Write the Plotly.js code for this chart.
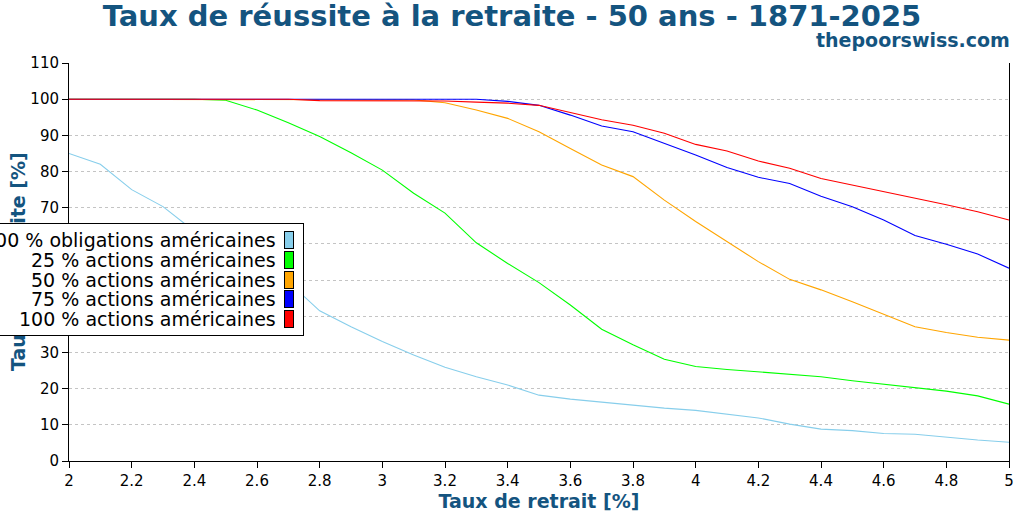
<!DOCTYPE html>
<html lang="fr">
<head>
<meta charset="utf-8">
<title>Taux de réussite à la retraite - 50 ans</title>
<script src="https://cdn.plot.ly/plotly-3.0.1.min.js"></script>
<style>
  html, body { margin: 0; padding: 0; background: #fff; }
  #chart { width: 1024px; height: 512px; }
</style>
</head>
<body>
<div id="chart"></div>
<script>
/* Données (taux de retrait en %, réussite en %) */
const rates = [2.0, 2.1, 2.2, 2.3, 2.4, 2.5, 2.6, 2.7, 2.8, 2.9,
               3.0, 3.1, 3.2, 3.3, 3.4, 3.5, 3.6, 3.7, 3.8, 3.9,
               4.0, 4.1, 4.2, 4.3, 4.4, 4.5, 4.6, 4.7, 4.8, 4.9, 5.0];

const bonds100 = [85, 82, 75, 70.3, 63.5, 58.5, 54, 49.5, 41.5, 37.1,
                  33.0, 29.3, 25.9, 23.3, 21.0, 18.2, 17.1, 16.2, 15.5, 14.6,
                  14.0, 13.0, 11.9, 10.2, 8.8, 8.4, 7.6, 7.4, 6.5, 5.8, 5.2];

const stocks25 = [100, 100, 100, 100, 100, 99.7, 97.0, 93.5, 89.7, 85.2,
                  80.4, 74.0, 68.5, 60.3, 54.6, 49.3, 43.1, 36.4, 32.1, 28.1,
                  26.1, 25.3, 24.7, 23.9, 23.3, 22.2, 21.3, 20.4, 19.3, 18.0, 15.7];

const stocks50 = [100, 100, 100, 100, 100, 100, 100, 100, 100, 100,
                  100, 99.8, 99.0, 97.0, 94.7, 91.0, 86.4, 81.8, 78.6, 72.1,
                  66.2, 60.6, 55.1, 50.2, 47.3, 44.0, 40.6, 37.1, 35.5, 34.2, 33.4];

const stocks75 = [100, 100, 100, 100, 100, 100, 100, 100, 100, 100,
                  100, 100, 100, 100, 99.4, 98.3, 95.6, 92.6, 91.0, 87.8,
                  84.6, 81.1, 78.4, 76.7, 73.2, 70.3, 66.6, 62.3, 59.9, 57.2, 53.3];

const stocks100 = [100, 100, 100, 100, 100, 100, 100, 100, 99.6, 99.6,
                   99.6, 99.6, 99.5, 99.2, 98.9, 98.3, 96.2, 94.3, 92.8, 90.6,
                   87.5, 85.7, 82.9, 80.9, 78.1, 76.3, 74.6, 72.6, 70.8, 68.9, 66.6];

const seriesNames = ['100 % obligations américaines', '25 % actions américaines',
                     '50 % actions américaines', '75 % actions américaines',
                     '100 % actions américaines'];
const seriesColors = ['#87ceeb', '#00ff00', '#ffa500', '#0000ff', '#ff0000'];
const seriesValues = [bonds100, stocks25, stocks50, stocks75, stocks100];

const yTicks = [0, 10, 20, 30, 40, 50, 60, 70, 80, 90, 100, 110];
const xTicks = [2, 2.2, 2.4, 2.6, 2.8, 3, 3.2, 3.4, 3.6, 3.8, 4, 4.2, 4.4, 4.6, 4.8, 5];

/* ============================================
   Mise en page
   ============================================ */
const W = 1024, H = 512;
const M = { l: 69, r: 15, t: 63, b: 51 };
const plotW = W - M.l - M.r;
const plotH = H - M.t - M.b;
const titleBlue = '#14547f';
const font = 'DejaVu Sans, sans-serif';

// pixels -> coordonnées "paper"
function paperX(px) { return (px - M.l) / plotW; }
function paperY(py) { return (H - M.b - py) / plotH; }

const traces = seriesValues.map(function (vals, i) {
    return {
        type: 'scatter',
        mode: 'lines',
        x: rates,
        y: vals,
        name: seriesNames[i],
        line: { color: seriesColors[i], width: 1.1 },
        hoverinfo: 'skip'
    };
});

// Titre de l'axe Y en annotation : la légende doit passer par-dessus
const annotations = [{
    xref: 'paper', yref: 'paper', x: paperX(18), y: 0.5,
    xanchor: 'center', yanchor: 'middle', textangle: -90, showarrow: false,
    text: 'Taux de réussite [%]',
    font: { family: font, size: 19, color: titleBlue, weight: 'bold' }
}];

// Légende faite à la main : texte aligné à droite, carré de couleur à droite
const legendLeft = -6, legendRight = 304, legendTop = 223, legendBottom = 336;
const rowStart = 240, rowStep = 19.8;

annotations.push({
    xref: 'paper', yref: 'paper', x: paperX(legendLeft), y: paperY(legendTop),
    xanchor: 'left', yanchor: 'top', showarrow: false, text: ' ',
    width: legendRight - legendLeft - 2, height: legendBottom - legendTop - 2,
    bgcolor: '#ffffff', bordercolor: '#000000', borderwidth: 1, borderpad: 0
});

seriesNames.forEach(function (name, i) {
    const cy = rowStart + i * rowStep;
    annotations.push({
        xref: 'paper', yref: 'paper', x: paperX(284), y: paperY(cy),
        xanchor: 'left', yanchor: 'middle', showarrow: false, text: ' ',
        width: 8, height: 16,
        bgcolor: seriesColors[i], bordercolor: '#000000', borderwidth: 1, borderpad: 0
    });
    annotations.push({
        xref: 'paper', yref: 'paper', x: paperX(278), y: paperY(cy),
        xanchor: 'right', yanchor: 'middle', showarrow: false,
        text: name, font: { family: font, size: 19, color: '#000000' }
    });
});

annotations.push({
    xref: 'paper', yref: 'paper', x: paperX(1012), y: paperY(40),
    xanchor: 'right', yanchor: 'middle', showarrow: false,
    text: 'thepoorswiss.com',
    font: { family: font, size: 19, color: titleBlue, weight: 'bold' }
});

const layout = {
    width: W,
    height: H,
    margin: M,
    paper_bgcolor: '#ffffff',
    plot_bgcolor: '#ffffff',
    showlegend: false,
    font: { family: font, size: 15, color: '#000000' },
    title: {
        text: 'Taux de réussite à la retraite - 50 ans - 1871-2025',
        font: { family: font, size: 29, color: titleBlue, weight: 'bold' },
        x: 0.5, xref: 'container', xanchor: 'center',
        y: 1 - 16 / H, yref: 'container', yanchor: 'middle'
    },
    xaxis: {
        range: [2, 5],
        tickvals: xTicks,
        ticktext: xTicks.map(String),
        ticks: 'outside', ticklen: 6, tickcolor: '#000000',
        showline: true, linecolor: '#000000', linewidth: 1,
        showgrid: false, zeroline: false,
        tickfont: { family: font, size: 15, color: '#000000' },
        title: {
            text: 'Taux de retrait [%]', standoff: 4,
            font: { family: font, size: 19, color: titleBlue, weight: 'bold' }
        }
    },
    yaxis: {
        range: [0, 110],
        tickvals: yTicks,
        ticks: 'outside', ticklen: 6, tickcolor: '#000000',
        showline: true, mirror: true, linecolor: '#000000', linewidth: 1,
        showgrid: true, gridcolor: '#c4c4c4', griddash: 'dot', gridwidth: 1,
        zeroline: false,
        tickfont: { family: font, size: 15, color: '#000000' }
    },
    annotations: annotations
};

Plotly.newPlot('chart', traces, layout, { displayModeBar: false, staticPlot: true });
</script>
</body>
</html>
